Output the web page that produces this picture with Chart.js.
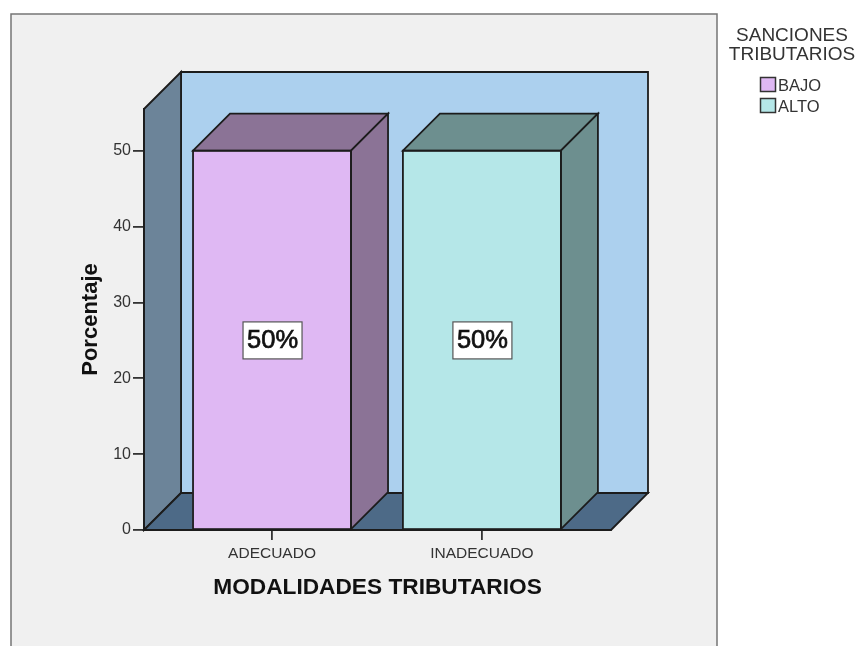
<!DOCTYPE html>
<html><head><meta charset="utf-8">
<script src="https://cdn.jsdelivr.net/npm/chart.js@4"></script>
<style>html,body{margin:0;padding:0;background:#fff;overflow:hidden}canvas{display:block}</style>
</head><body><canvas id="c" width="859" height="646"></canvas>
<script>
const categories = ['ADECUADO', 'INADECUADO'];
const bajo = [50, null];
const alto = [null, 50];
const seriesNames = ['BAJO', 'ALTO'];
const yTicksMax = 55.5;
const xTitle = 'MODALIDADES TRIBUTARIOS';
const yTitle = 'Porcentaje';
const legendTitle = ['SANCIONES', 'TRIBUTARIOS'];
const DEPTH = 37;
const FONT = '"Liberation Sans", Arial, sans-serif';
const EDGE = '#1c1c1c';

function poly(ctx, pts, fill) {
  ctx.beginPath();
  pts.forEach((p, i) => i ? ctx.lineTo(p[0], p[1]) : ctx.moveTo(p[0], p[1]));
  ctx.closePath();
  ctx.fillStyle = fill; ctx.fill();
  ctx.strokeStyle = EDGE; ctx.lineWidth = 1.8; ctx.lineJoin = 'miter'; ctx.stroke();
}

const scene = {
  id: 'scene',
  beforeDraw(chart) {
    const { ctx, chartArea: a } = chart;
    ctx.save();
    ctx.fillStyle = '#f0f0f0'; ctx.fillRect(11, 14, 706, 640);
    ctx.strokeStyle = '#757575'; ctx.lineWidth = 1.5; ctx.strokeRect(11, 14, 706, 640);
    const d = DEPTH;
    poly(ctx, [[a.left + d, a.top - d], [a.right + d, a.top - d], [a.right + d, a.bottom - d], [a.left + d, a.bottom - d]], '#acd0ee');
    poly(ctx, [[a.left, a.top], [a.left + d, a.top - d], [a.left + d, a.bottom - d], [a.left, a.bottom]], '#6c8499');
    poly(ctx, [[a.left, a.bottom], [a.left + d, a.bottom - d], [a.right + d, a.bottom - d], [a.right, a.bottom]], '#4d6a87');
    ctx.restore();
  },
  afterDatasetsDraw(chart) {
    const { ctx } = chart;
    const d = DEPTH;
    const darks = ['#8b7396', '#6d8f8f'];
    ctx.save();
    chart.data.datasets.forEach((ds, di) => {
      chart.getDatasetMeta(di).data.forEach((bar, i) => {
        if (ds.data[i].y == null) return;
        const l = bar.x - bar.width / 2, r = bar.x + bar.width / 2, t = bar.y, b = bar.base;
        poly(ctx, [[l, t], [l + d, t - d], [r + d, t - d], [r, t]], darks[di]);
        poly(ctx, [[r, t], [r + d, t - d], [r + d, b - d], [r, b]], darks[di]);
        ctx.strokeStyle = EDGE; ctx.lineWidth = 1.8; ctx.strokeRect(l, t, r - l, b - t);
        const label = ds.data[i].y + '%';
        const cx = bar.x + 0.5, cy = (t + b) / 2 + 0.5;
        ctx.fillStyle = '#fff'; ctx.fillRect(cx - 29.5, cy - 18.5, 59, 37);
        ctx.strokeStyle = '#555'; ctx.lineWidth = 1.2; ctx.strokeRect(cx - 29.5, cy - 18.5, 59, 37);
        ctx.font = '25.5px ' + FONT; ctx.fillStyle = '#111';
        ctx.textAlign = 'center'; ctx.textBaseline = 'middle';
        ctx.fillText(label, cx, cy + 1);
        ctx.strokeStyle = '#111'; ctx.lineWidth = 0.7; ctx.strokeText(label, cx, cy + 1);
      });
    });
    ctx.restore();
  },
  afterDraw(chart) {
    const { ctx } = chart;
    ctx.save();
    ctx.fillStyle = '#333'; ctx.textAlign = 'center'; ctx.textBaseline = 'middle';
    ctx.font = '19px ' + FONT;
    legendTitle.forEach((t, i) => ctx.fillText(t, 792, 36 + i * 19));
    ctx.font = '16.5px ' + FONT; ctx.textAlign = 'left';
    chart.data.datasets.forEach((ds, i) => {
      const y = 77.5 + i * 21;
      ctx.fillStyle = ds.backgroundColor; ctx.fillRect(760.5, y, 15, 14);
      ctx.strokeStyle = '#333'; ctx.lineWidth = 1.5; ctx.strokeRect(760.5, y, 15, 14);
      ctx.fillStyle = '#333'; ctx.fillText(ds.label, 778, y + 9);
    });
    ctx.restore();
  }
};

const pts = arr => arr.map((v, i) => ({ x: i, y: v }));

new Chart(document.getElementById('c'), {
  type: 'bar',
  data: {
    datasets: [
      { label: seriesNames[0], data: pts(bajo), backgroundColor: '#dfb8f3' },
      { label: seriesNames[1], data: pts(alto), backgroundColor: '#b5e7e8' }
    ]
  },
  options: {
    responsive: false, animation: false, devicePixelRatio: 1,
    layout: { padding: { left: 78, right: 248, top: 109, bottom: 45 } },
    datasets: { bar: { barThickness: 158, grouped: false, borderWidth: 0 } },
    plugins: { legend: { display: false }, tooltip: { enabled: false }, title: { display: false } },
    scales: {
      x: {
        type: 'linear', min: -0.61, max: 1.615, offset: false,
        afterBuildTicks(s) { s.ticks = categories.map((_, i) => ({ value: i })); },
        afterFit(s) { s.height = 71; },
        grid: { drawOnChartArea: false, offset: false, tickLength: 10, tickColor: '#333', lineWidth: 1.8 },
        border: { color: EDGE, width: 1.8 },
        ticks: { autoSkip: false, maxRotation: 0, padding: 4, color: '#333', font: { family: FONT, size: 15.5 },
          callback: v => categories[v] },
        title: { display: true, text: xTitle, color: '#111', padding: 0, font: { family: FONT, size: 22.7, weight: 'bold' } }
      },
      y: {
        min: 0, max: yTicksMax,
        afterFit(s) { s.width = 66; },
        grid: { drawOnChartArea: false, tickLength: 11, tickColor: '#333', lineWidth: 1.8 },
        border: { color: EDGE, width: 1.8 },
        ticks: { stepSize: 10, includeBounds: false, padding: 2, color: '#333', font: { family: FONT, size: 16 } },
        title: { display: true, text: yTitle, color: '#111', padding: 0, font: { family: FONT, size: 22, weight: 'bold' } }
      }
    }
  },
  plugins: [scene]
});
</script></body></html>
